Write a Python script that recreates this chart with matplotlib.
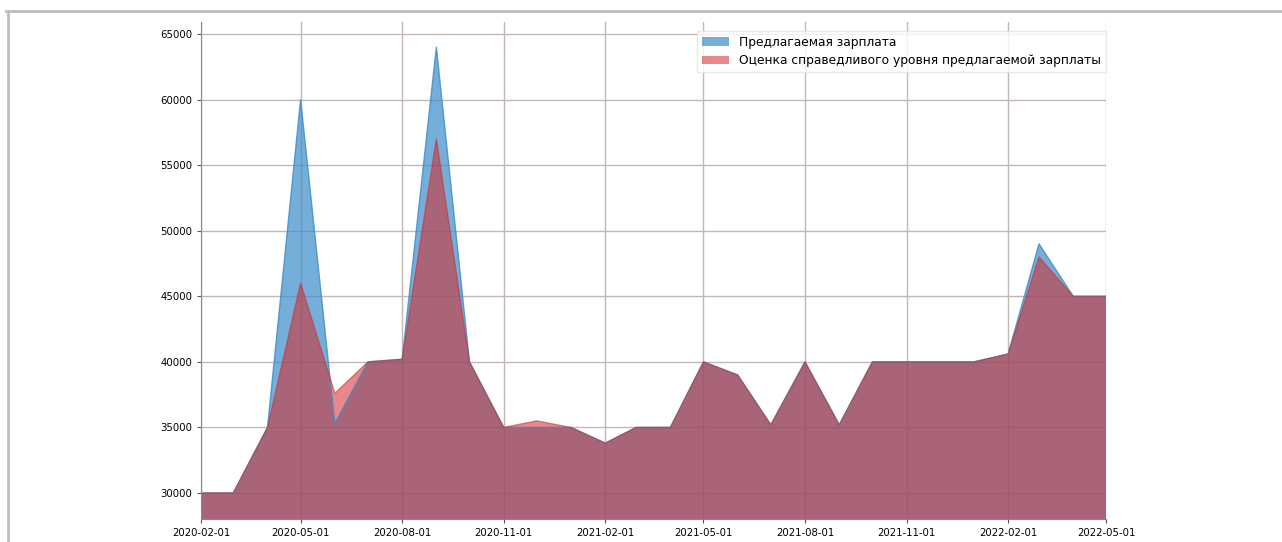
import numpy as np
import pandas as pd
import matplotlib
matplotlib.use('Agg')
import matplotlib.pyplot as plt
import matplotlib.dates as mdates
from matplotlib.lines import Line2D

months = pd.date_range('2020-02-01', '2022-05-01', freq='MS')
offered = [30000, 30000, 35000, 60000, 35300, 40000, 40200, 64000, 40000, 35000,
           35000, 35000, 33800, 35000, 35000, 40000, 39000, 35200, 40000, 35200,
           40000, 40000, 40000, 40000, 40600, 49000, 45000, 45000]
fair = [30000, 30000, 35000, 46000, 37600, 40000, 40200, 57000, 40000, 35000,
        35500, 35000, 33800, 35000, 35000, 40000, 39000, 35200, 40000, 35200,
        40000, 40000, 40000, 40000, 40600, 48000, 45000, 45000]
labels = ['Предлагаемая зарплата', 'Оценка справедливого уровня предлагаемой зарплаты']

fig = plt.figure(figsize=(12.82, 5.42), dpi=100)
ax = fig.add_axes([0.157, 0.042, 0.706, 0.917])

blue = '#3a8cc8'
red = '#d62728'
ax.fill_between(months, offered, 0, color=blue, alpha=0.7, lw=0, label=labels[0])
ax.plot(months, offered, color=blue, alpha=0.8, lw=1)
ax.fill_between(months, fair, 0, color=red, alpha=0.55, lw=0, label=labels[1])
ax.plot(months, fair, color=red, alpha=0.55, lw=1)

ax.set_xlim(months[0], months[-1])
ax.set_ylim(28000, 65900)
ax.xaxis.set_major_locator(mdates.MonthLocator(bymonth=[2, 5, 8, 11]))
ax.xaxis.set_major_formatter(mdates.DateFormatter('%Y-%m-%d'))
ax.set_yticks(np.arange(30000, 65001, 5000))
ax.tick_params(labelsize=7.3, length=3, color='#555555')
ax.grid(True, color='#c4b8b4', lw=1)
ax.set_axisbelow(True)
for s in ['top', 'right']:
    ax.spines[s].set_visible(False)
for s in ['left', 'bottom']:
    ax.spines[s].set_color('#888888')

ax.legend(loc='upper right', bbox_to_anchor=(1.006, 0.995), fontsize=8.8,
          framealpha=0.8, edgecolor='#e4e4e4', fancybox=False,
          handlelength=2.2, borderpad=0.4, labelspacing=0.45)

# page frame lines
fig.add_artist(Line2D([0.005, 1.0], [0.98, 0.98], color='#bdbdbd', lw=2))
fig.add_artist(Line2D([0.006, 0.006], [0.0, 0.98], color='#bdbdbd', lw=2))

fig.savefig('out.png', dpi=100)
